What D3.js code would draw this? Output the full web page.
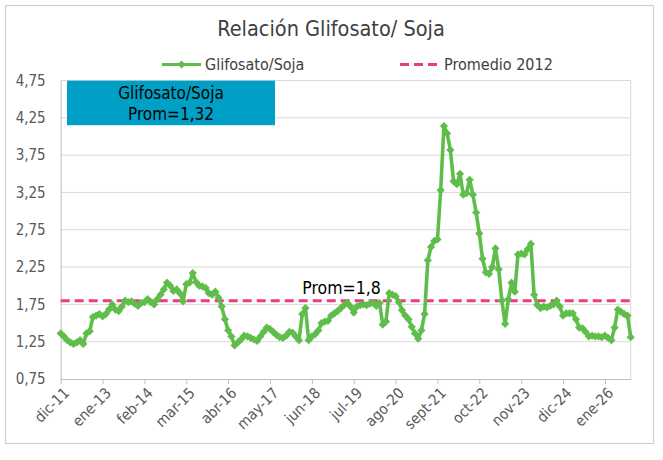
<!DOCTYPE html>
<html>
<head>
<meta charset="utf-8">
<script src="https://cdn.jsdelivr.net/npm/d3@7/dist/d3.min.js"></script>
<style>
  html, body { margin: 0; padding: 0; background: #fff; }
  svg { display: block; }
  text { font-family: "Liberation Sans Narrow", "DejaVu Sans Condensed", "Liberation Sans", sans-serif; }
</style>
</head>
<body>
<svg id="chart" width="663" height="460"></svg>
<script>
// ---- Data ----
const tickLabels = ["dic-11","ene-13","feb-14","mar-15","abr-16","may-17","jun-18","jul-19","ago-20","sept-21","oct-22","nov-23","dic-24","ene-26"];
const tickEvery = 13; // months between labels
const ratio = [
  1.36,1.32,1.27,1.24,1.22,1.24,1.27,1.22,1.36,1.39,1.58,1.60,
  1.62,1.59,1.62,1.68,1.75,1.68,1.66,1.72,1.80,1.78,1.79,1.76,
  1.73,1.77,1.78,1.82,1.78,1.75,1.82,1.88,1.95,2.04,2.00,1.93,
  1.95,1.90,1.79,2.02,2.04,2.17,2.05,2.00,1.99,1.97,1.90,1.88,
  1.92,1.84,1.72,1.55,1.40,1.32,1.20,1.24,1.28,1.33,1.32,1.30,
  1.28,1.26,1.32,1.38,1.44,1.42,1.38,1.34,1.31,1.30,1.33,1.38,
  1.37,1.32,1.27,1.62,1.70,1.27,1.32,1.35,1.40,1.50,1.52,1.53,
  1.60,1.63,1.66,1.70,1.74,1.77,1.72,1.64,1.72,1.74,1.75,1.74,
  1.76,1.77,1.73,1.77,1.48,1.52,1.90,1.88,1.86,1.78,1.67,1.60,
  1.55,1.45,1.36,1.29,1.40,1.62,2.34,2.52,2.60,2.62,3.28,4.14,
  4.04,3.82,3.40,3.36,3.50,3.22,3.24,3.42,3.22,2.98,2.70,2.36,
  2.18,2.16,2.25,2.50,2.22,1.80,1.49,1.82,2.04,1.92,2.42,2.43,
  2.42,2.49,2.56,1.88,1.74,1.70,1.72,1.71,1.73,1.75,1.80,1.72,
  1.60,1.63,1.63,1.63,1.55,1.44,1.43,1.38,1.32,1.33,1.32,1.32,
  1.31,1.33,1.30,1.27,1.44,1.68,1.65,1.62,1.60,1.31
];
const promedio2012 = 1.8;
const promGlifo = "1,32";
const yTicks = [0.75,1.25,1.75,2.25,2.75,3.25,3.75,4.25,4.75];

// ---- Layout ----
const svg = d3.select("#chart");
const green = "#5FBE4B", pink = "#EE3A7F", teal = "#00A0C6";
const L = 60.7, R = 630.7, T = 80.5, B = 379;
const fmt = v => d3.format(".2f")(v).replace(".", ",");

svg.append("rect").attr("x", 5.5).attr("y", 5.5).attr("width", 648).attr("height", 438)
  .attr("fill", "#fff").attr("stroke", "#D0D0D0").attr("stroke-width", 1.2);

const x = d3.scaleLinear().domain([0, ratio.length - 1]).range([L, R]);
const y = d3.scaleLinear().domain([0.75, 4.75]).range([B, T]);

// gridlines
svg.append("g").selectAll("line").data(yTicks.slice(1)).join("line")
  .attr("x1", L).attr("x2", R).attr("y1", d => y(d)).attr("y2", d => y(d))
  .attr("stroke", "#D9D9D9").attr("stroke-width", 1);
// plot right border
svg.append("line").attr("x1", R).attr("x2", R).attr("y1", T).attr("y2", B)
  .attr("stroke", "#D9D9D9");

// y axis
const yAxis = d3.axisLeft(y).tickValues(yTicks).tickFormat(fmt).tickSize(0).tickPadding(15);
const gy = svg.append("g").attr("transform", `translate(${L},0)`).call(yAxis);
gy.select(".domain").attr("stroke", "#BFBFBF");
gy.selectAll("text").attr("font-size", 15).attr("fill", "#595959");

// x axis
const tickIdx = tickLabels.map((d, i) => i * tickEvery);
const xAxis = d3.axisBottom(x).tickValues(tickIdx).tickFormat((d, i) => tickLabels[i]).tickSize(5).tickSizeOuter(0);
const gx = svg.append("g").attr("transform", `translate(0,${B})`).call(xAxis);
gx.select(".domain").attr("stroke", "#BFBFBF");
gx.selectAll(".tick line").attr("stroke", "#BFBFBF");
gx.selectAll("text").attr("font-size", 15).attr("fill", "#595959")
  .attr("text-anchor", "end").attr("dy", 0).attr("y", 0)
  .attr("transform", "translate(9,15) rotate(-45)");

// average line
svg.append("line").attr("x1", L).attr("x2", R)
  .attr("y1", y(promedio2012)).attr("y2", y(promedio2012))
  .attr("stroke", pink).attr("stroke-width", 3).attr("stroke-dasharray", "9,5");

// series line
const line = d3.line().x((d, i) => x(i)).y(d => y(d));
svg.append("path").datum(ratio).attr("d", line)
  .attr("fill", "none").attr("stroke", green).attr("stroke-width", 3.6).attr("stroke-linejoin", "round");
const sym = d3.symbol().type(d3.symbolSquare).size(34);
svg.append("g").selectAll("path").data(ratio).join("path")
  .attr("d", sym)
  .attr("transform", (d, i) => `translate(${x(i)},${y(d)}) rotate(45)`)
  .attr("fill", green);

// Prom label
svg.append("text").attr("x", 341.5).attr("y", 293.5).attr("text-anchor", "middle")
  .attr("font-size", 17.5).attr("fill", "#000").text("Prom=1,8");

// annotation box
svg.append("rect").attr("x", 67).attr("y", 80.7).attr("width", 208).attr("height", 44.5).attr("fill", teal);
svg.append("text").attr("x", 171).attr("y", 98.5).attr("text-anchor", "middle")
  .attr("font-size", 17).attr("fill", "#000").text("Glifosato/Soja");
svg.append("text").attr("x", 171).attr("y", 120).attr("text-anchor", "middle")
  .attr("font-size", 17).attr("fill", "#000").text("Prom=" + promGlifo);

// title
svg.append("text").attr("x", 331).attr("y", 36).attr("text-anchor", "middle")
  .attr("font-size", 21.5).attr("fill", "#404040").text("Relación Glifosato/ Soja");

// legend
const lg = svg.append("g");
lg.append("line").attr("x1", 162).attr("x2", 201).attr("y1", 64.5).attr("y2", 64.5)
  .attr("stroke", green).attr("stroke-width", 3.2);
lg.append("path").attr("d", sym).attr("transform", "translate(181.5,64.5) rotate(45)").attr("fill", green);
lg.append("text").attr("x", 205).attr("y", 69.5).attr("font-size", 16).attr("fill", "#404040").text("Glifosato/Soja");
lg.append("line").attr("x1", 400).attr("x2", 437).attr("y1", 64.5).attr("y2", 64.5)
  .attr("stroke", pink).attr("stroke-width", 3).attr("stroke-dasharray", "9,5");
lg.append("text").attr("x", 444).attr("y", 69.5).attr("font-size", 16).attr("fill", "#404040").text("Promedio 2012");
</script>
</body>
</html>
